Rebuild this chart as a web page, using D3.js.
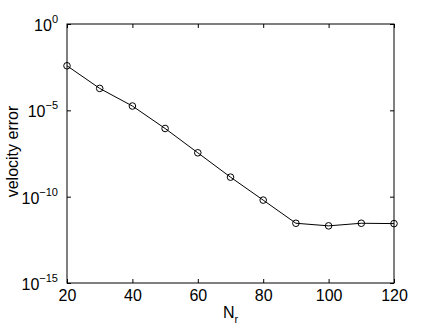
<!DOCTYPE html>
<html>
<head>
<meta charset="utf-8">
<script src="https://cdn.jsdelivr.net/npm/d3@7"></script>
<style>
  body { margin: 0; background: #fff; }
  svg { font-family: "Liberation Sans", Arial, sans-serif; }
</style>
</head>
<body>
<div id="chart"></div>
<script>
// data
var nr = [20, 30, 40, 50, 60, 70, 80, 90, 100, 110, 120];
var logErr = [-2.42, -3.73, -4.75, -6.05, -7.46, -8.87, -10.2, -11.54, -11.69, -11.54, -11.56];
var xTicks = [20, 40, 60, 80, 100, 120];
var yTickExp = [-15, -10, -5, 0];

var W = 436, H = 328;
var margin = { left: 67, right: 42, top: 24, bottom: 45 };
var width = W - margin.left - margin.right;
var height = H - margin.top - margin.bottom;

var svg = d3.select("#chart").append("svg")
    .attr("width", W)
    .attr("height", H);
var g = svg.append("g")
    .attr("transform", "translate(" + margin.left + "," + margin.top + ")");

var x = d3.scaleLinear().domain([20, 120]).range([0, width]);
var y = d3.scaleLog().domain([1e-15, 1]).range([height, 0]);

var data = nr.map(function (d, i) { return { n: d, v: Math.pow(10, logErr[i]) }; });

// box
g.append("rect")
    .attr("width", width)
    .attr("height", height)
    .attr("fill", "none")
    .attr("stroke", "#000")
    .attr("stroke-width", 1);

// ticks (inward, on all four sides)
var tl = 4;
var xb = d3.axisBottom(x).tickValues(xTicks).tickSize(-tl).tickPadding(7);
var xt = d3.axisTop(x).tickValues(xTicks).tickSize(-tl).tickFormat("");
var yl = d3.axisLeft(y).tickValues(yTickExp.map(function (e) { return Math.pow(10, e); })).tickSize(-tl).tickFormat("");
var yr = d3.axisRight(y).tickValues(yTickExp.map(function (e) { return Math.pow(10, e); })).tickSize(-tl).tickFormat("");

g.append("g").attr("transform", "translate(0," + height + ")").call(xb)
    .call(function (s) { s.selectAll("text").attr("font-size", "16px").attr("fill", "#000"); });
g.append("g").call(xt);
g.append("g").call(yl);
g.append("g").attr("transform", "translate(" + width + ",0)").call(yr);
g.selectAll(".domain").remove();
g.selectAll(".tick line").attr("stroke", "#000");

// y tick labels: 10^e
yTickExp.forEach(function (e) {
    var t = g.append("text")
        .attr("x", -9)
        .attr("y", y(Math.pow(10, e)) + 7)
        .attr("text-anchor", "end")
        .attr("font-size", "16px");
    t.append("tspan").text("10");
    t.append("tspan").attr("dy", -8).attr("font-size", "11px").text(e < 0 ? "\u2212" + (-e) : e);
});

// line + markers
var line = d3.line()
    .x(function (d) { return x(d.n); })
    .y(function (d) { return y(d.v); });

g.append("path")
    .datum(data)
    .attr("d", line)
    .attr("fill", "none")
    .attr("stroke", "#000")
    .attr("stroke-width", 1);

g.selectAll("circle")
    .data(data)
    .enter().append("circle")
    .attr("cx", function (d) { return x(d.n); })
    .attr("cy", function (d) { return y(d.v); })
    .attr("r", 3.3)
    .attr("fill", "none")
    .attr("stroke", "#000")
    .attr("stroke-width", 1);

// axis labels
var xl = g.append("text")
    .attr("x", width / 2)
    .attr("y", height + 35)
    .attr("text-anchor", "middle")
    .attr("font-size", "16px");
xl.append("tspan").text("N");
xl.append("tspan").attr("dy", 5).attr("font-size", "11px").text("r");

g.append("text")
    .attr("transform", "rotate(-90)")
    .attr("x", -(height / 2) + 2)
    .attr("y", -49)
    .attr("text-anchor", "middle")
    .attr("font-size", "16px")
    .text("velocity error");
</script>
</body>
</html>
